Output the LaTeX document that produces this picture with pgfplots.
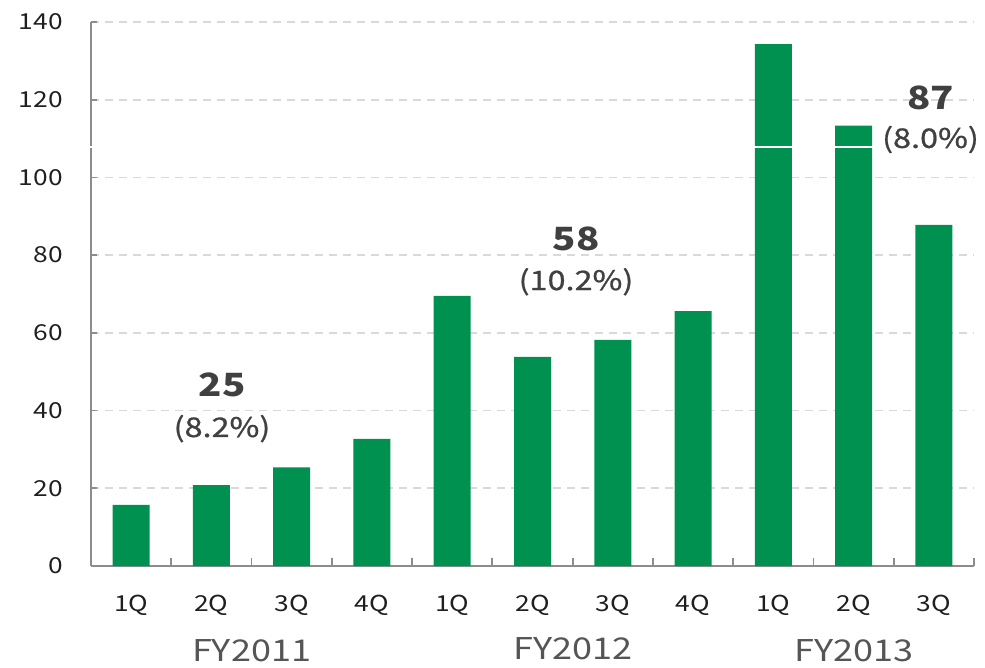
\documentclass[border=0pt]{standalone}
\usepackage{pgfplots}
\pgfplotsset{compat=1.18}
\usepackage{fontspec}
\setmainfont[FakeStretch=1.2]{Noto Sans CJK JP}
\newfontfamily\pctfont[FakeStretch=1.2, FakeBold=0.8]{Noto Sans CJK JP}
\definecolor{bargreen}{HTML}{009150}
\definecolor{axgray}{HTML}{8C8C8C}
\definecolor{gridgray}{HTML}{D9D9D9}
\definecolor{annot}{HTML}{404040}
\definecolor{fygray}{HTML}{555555}
\begin{document}
\begin{tikzpicture}
\useasboundingbox (-91pt,-101pt) rectangle (894pt,566pt);
\begin{axis}[
  at={(0pt,0pt)}, anchor=south west,
  scale only axis, width=883pt, height=544pt,
  xmin=-0.5, xmax=10.5, ymin=0, ymax=140,
  clip=false,
  axis lines*=left,
  axis line style={draw=axgray, line width=2.5pt},
  ybar, bar width=37pt,
  xtick={0,...,10},
  xticklabels={1Q,2Q,3Q,4Q,1Q,2Q,3Q,4Q,1Q,2Q,3Q},
  minor xtick={0.5,1.5,...,10.5},
  ytick={0,20,...,140},
  tick align=inside,
  major tick length=6pt,
  minor tick length=8pt,
  major x tick style={draw=none},
  minor x tick style={draw=axgray, line width=1.8pt},
  major y tick style={draw=axgray, line width=1.8pt},
  ymajorgrids,
  major grid style={draw=gridgray, line width=1.8pt, dash pattern=on 8pt off 6pt},
  tick label style={font=\fontsize{22}{22}\selectfont, text=black!88},
  /pgf/number format/assume math mode=true,
  yticklabel style={anchor=east, inner sep=0pt, xshift=-28pt},
  xticklabel style={anchor=base, inner sep=0pt, yshift=-45pt},
]
\addplot[fill=bargreen, draw=none] coordinates {
  (0,15.7) (1,20.8) (2,25.4) (3,32.7)
  (4,69.5) (5,53.8) (6,58.2) (7,65.6)
  (8,134.3) (9,113.3) (10,87.8)
};
\draw[white, line width=1.5pt] (axis cs:-0.6,107.8) -- (axis cs:9.4,107.8);
\node[anchor=base, text=annot, inner sep=0pt, font=\fontsize{32}{32}\selectfont\bfseries] at (axis cs:1.132,43.5) {25};
\node[anchor=base, text=annot, inner sep=0pt, font=\pctfont\fontsize{27}{27}\selectfont] at (axis cs:1.132,33.2) {(8.2\%)};
\node[anchor=base, text=annot, inner sep=0pt, font=\fontsize{32}{32}\selectfont\bfseries] at (axis cs:5.542,81.3) {58};
\node[anchor=base, text=annot, inner sep=0pt, font=\pctfont\fontsize{27}{27}\selectfont] at (axis cs:5.542,71.0) {(10.2\%)};
\node[anchor=base, text=annot, inner sep=0pt, font=\fontsize{32}{32}\selectfont\bfseries] at (axis cs:9.958,117.4) {87};
\node[anchor=base, text=annot, inner sep=0pt, font=\pctfont\fontsize{27}{27}\selectfont] at (axis cs:9.958,107.6) {(8.0\%)};
\node[anchor=base, text=fygray, inner sep=0pt, font=\fontsize{30}{30}\selectfont] at (axis cs:1.5,-24.7) {FY2011};
\node[anchor=base, text=fygray, inner sep=0pt, font=\fontsize{30}{30}\selectfont] at (axis cs:5.5,-24.0) {FY2012};
\node[anchor=base, text=fygray, inner sep=0pt, font=\fontsize{30}{30}\selectfont] at (axis cs:9.0,-24.5) {FY2013};
\end{axis}
\end{tikzpicture}
\end{document}
